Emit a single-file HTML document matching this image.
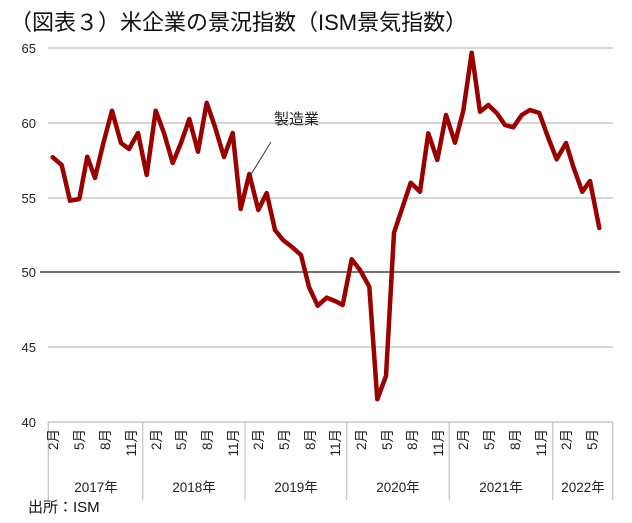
<!DOCTYPE html>
<html><head><meta charset="utf-8"><style>
html,body{margin:0;padding:0;background:#fff;}
svg{display:block;font-family:"Liberation Sans","Noto Sans CJK JP",sans-serif;}
</style></head><body>
<svg width="632" height="523" viewBox="0 0 632 523">
<text x="10" y="30" font-size="22" fill="#111">（図表３）米企業の景況指数（ISM景気指数）</text>
<g stroke="#c8c8c8" stroke-width="1.5">
<line x1="48" y1="48" x2="613" y2="48"/>
<line x1="48" y1="123" x2="613" y2="123"/>
<line x1="48" y1="198" x2="613" y2="198"/>
<line x1="48" y1="347" x2="613" y2="347"/>
<line x1="48" y1="422" x2="613" y2="422"/>
</g>
<line x1="40" y1="272" x2="620" y2="272" stroke="#222" stroke-width="1.3"/>
<g font-size="13" fill="#222" text-anchor="end">
<text x="36" y="53">65</text><text x="36" y="128">60</text><text x="36" y="203">55</text>
<text x="36" y="277">50</text><text x="36" y="352">45</text><text x="36" y="427">40</text>
</g>
<g stroke="#c8c8c8" stroke-width="1.3">
<line x1="48.3" y1="422" x2="48.3" y2="500"/><line x1="142.7" y1="422" x2="142.7" y2="500"/>
<line x1="245" y1="422" x2="245" y2="500"/><line x1="346.7" y1="422" x2="346.7" y2="500"/>
<line x1="449.3" y1="422" x2="449.3" y2="500"/><line x1="552.7" y1="422" x2="552.7" y2="500"/>
<line x1="612.7" y1="422" x2="612.7" y2="500"/>
</g>
<g font-size="13.5" fill="#222" text-anchor="end">
<text transform="translate(58,429) rotate(-90)">2月</text><text transform="translate(84,429) rotate(-90)">5月</text><text transform="translate(110,429) rotate(-90)">8月</text><text transform="translate(136,429) rotate(-90)">11月</text>
<text transform="translate(161,429) rotate(-90)">2月</text><text transform="translate(186,429) rotate(-90)">5月</text><text transform="translate(212,429) rotate(-90)">8月</text><text transform="translate(238,429) rotate(-90)">11月</text>
<text transform="translate(263,429) rotate(-90)">2月</text><text transform="translate(289,429) rotate(-90)">5月</text><text transform="translate(315,429) rotate(-90)">8月</text><text transform="translate(340,429) rotate(-90)">11月</text>
<text transform="translate(366,429) rotate(-90)">2月</text><text transform="translate(392,429) rotate(-90)">5月</text><text transform="translate(417,429) rotate(-90)">8月</text><text transform="translate(443,429) rotate(-90)">11月</text>
<text transform="translate(468,429) rotate(-90)">2月</text><text transform="translate(494,429) rotate(-90)">5月</text><text transform="translate(520,429) rotate(-90)">8月</text><text transform="translate(546,429) rotate(-90)">11月</text>
<text transform="translate(571,429) rotate(-90)">2月</text><text transform="translate(597,429) rotate(-90)">5月</text>
</g>
<g font-size="13.5" fill="#222" text-anchor="middle">
<text x="96" y="492">2017年</text><text x="194" y="492">2018年</text><text x="296" y="492">2019年</text>
<text x="398" y="492">2020年</text><text x="501" y="492">2021年</text><text x="583" y="492">2022年</text>
</g>
<polyline fill="none" stroke="#990000" stroke-width="4.5" stroke-linejoin="round" stroke-linecap="round" points="52.7,157.3 61.7,165 70,200.7 79.3,199 87.3,156.7 95,178 103.3,143.3 112,110.7 121,143 129,149 138,133 146.7,175 155.7,110.7 164,133 172.7,163 181,143 189.3,119 198,151.7 206.7,102.7 215,127 224,157 232.7,133 240.7,209 249.3,174 258.3,210 266.7,193 275,230 283,240 292,247 301,255 309,287 317.7,305.7 326.7,297.7 335,301 342.7,305 351.7,259.3 360,270 369.3,286.7 377.3,399.3 386,376 394,232.7 402.7,206.7 410.7,182.7 420,191.7 428.3,133.3 437.3,160 446,115 455,142.7 463.3,110.7 471.7,52.7 480,111.7 488.3,105 496.7,113 505,125 513.3,127.3 521.7,115 530,110 539.3,113 548.3,138 556.7,159.3 566,143 573.3,166.7 582.3,191.7 590,181 599.3,228"/>
<line x1="271" y1="142" x2="250" y2="176" stroke="#333" stroke-width="1"/>
<text x="274" y="124" font-size="15" fill="#222">製造業</text>
<text x="28" y="512" font-size="15" fill="#111">出所：ISM</text>
</svg>
</body></html>
